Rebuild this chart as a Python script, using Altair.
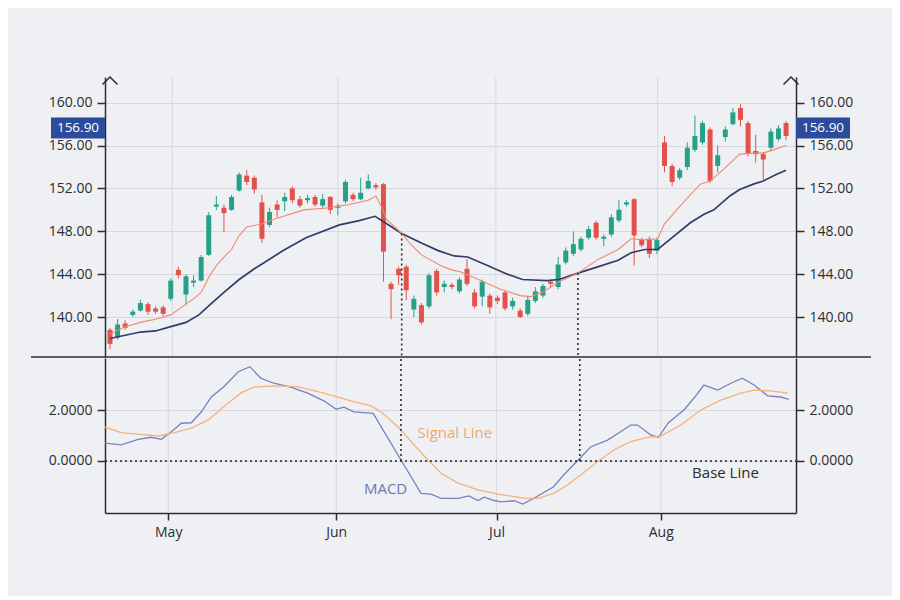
import altair as alt
import pandas as pd

# ---------------- data ----------------
opens = [138.8, 138.1, 139.4, 140.2, 140.6, 141.2, 140.8, 140.9, 141.7, 144.4,
         142.1, 143.2, 143.4, 145.8, 150.3, 150.2, 150.0, 151.8, 153.2, 153.0,
         150.7, 148.6, 150.5, 150.8, 152.0, 151.0, 150.9, 151.2, 150.4, 151.2,
         150.2, 150.8, 151.4, 151.0, 152.0, 152.3, 152.4, 143.1, 144.5, 144.7,
         140.7, 141.1, 141.0, 144.3, 142.8, 143.0, 142.4, 144.5, 142.3, 141.9,
         142.0, 141.8, 142.3, 141.0, 140.6, 140.3, 141.5, 142.0, 143.3, 142.8,
         145.1, 145.9, 146.3, 147.4, 148.8, 147.3, 147.7, 149.0, 150.5, 151.0,
         147.2, 147.3, 146.2, 156.3, 154.1, 153.0, 154.0, 155.6, 156.3, 157.5,
         154.1, 156.8, 158.0, 159.5, 158.1, 155.5, 155.2, 155.8, 156.6, 158.1]
closes = [137.5, 139.3, 139.0, 140.5, 141.3, 140.5, 140.5, 140.3, 143.4, 143.9,
          143.8, 143.4, 145.6, 149.5, 150.5, 149.7, 151.2, 153.3, 152.6, 151.9,
          147.3, 149.8, 150.0, 151.2, 150.9, 150.4, 151.1, 150.5, 151.0, 150.0,
          150.4, 152.6, 151.0, 151.6, 152.7, 152.1, 146.1, 142.6, 143.9, 142.5,
          141.7, 139.5, 143.9, 142.3, 143.1, 142.8, 143.5, 143.1, 141.0, 143.3,
          140.9, 141.5, 140.8, 141.5, 140.0, 141.6, 142.4, 142.9, 143.1, 144.9,
          146.2, 146.8, 147.3, 148.2, 147.4, 147.5, 149.3, 150.0, 150.7, 147.6,
          146.7, 145.9, 147.2, 154.1, 152.6, 153.7, 155.8, 156.9, 158.1, 152.7,
          155.1, 157.5, 159.1, 158.4, 155.3, 155.2, 154.7, 157.3, 157.6, 156.9]
highs = [139.0, 139.8, 139.7, 140.7, 141.6, 141.4, 141.0, 141.1, 143.6, 144.7,
         144.0, 143.9, 145.8, 149.8, 151.3, 150.5, 151.4, 153.5, 153.7, 153.2,
         151.4, 150.2, 150.9, 151.6, 152.2, 151.3, 151.4, 151.4, 151.5, 151.3,
         150.6, 152.8, 151.6, 153.0, 153.3, 152.5, 152.5, 143.3, 144.7, 144.9,
         142.0, 141.3, 144.1, 144.5, 143.4, 143.2, 143.7, 145.4, 142.6, 143.5,
         142.2, 142.0, 142.5, 141.8, 140.8, 142.0, 142.8, 143.1, 143.5, 145.6,
         146.5, 148.0, 147.5, 148.5, 149.0, 147.7, 149.6, 150.9, 150.9, 151.1,
         147.4, 147.5, 147.4, 156.9, 154.3, 153.9, 156.3, 158.8, 158.3, 157.7,
         156.0, 157.8, 159.5, 159.9, 158.3, 157.0, 155.4, 157.6, 157.9, 158.3]
lows = [137.0, 137.9, 138.8, 140.0, 140.5, 140.2, 140.3, 140.1, 141.5, 143.6,
        141.1, 142.8, 143.3, 145.7, 150.0, 147.9, 149.9, 151.7, 152.3, 151.5,
        146.9, 148.4, 149.3, 149.9, 150.6, 150.2, 150.6, 150.3, 150.2, 149.6,
        149.5, 150.6, 150.8, 150.9, 151.9, 151.9, 143.3, 139.8, 143.0, 141.6,
        140.0, 139.3, 140.8, 142.0, 142.3, 142.6, 142.2, 142.9, 140.8, 141.0,
        140.3, 141.2, 140.6, 140.7, 139.9, 140.1, 141.3, 141.8, 142.8, 142.6,
        144.9, 145.7, 146.1, 147.2, 147.2, 146.6, 147.5, 148.8, 150.3, 144.8,
        146.5, 145.5, 145.9, 153.5, 152.2, 152.8, 153.7, 155.4, 156.1, 152.5,
        153.5, 156.4, 157.9, 157.8, 155.0, 154.4, 152.8, 155.6, 156.4, 156.5]

short_ma_idx = [0, 2, 4, 6, 8, 10, 11, 12, 13, 14, 15, 16, 17, 18, 20, 21.5, 25.5, 29,
                31.5, 34, 35, 35.8, 36.4, 38.4, 39.7, 41, 43.5, 45, 46.2, 48.8, 51.4,
                54, 55.3, 56.9, 59.1, 61.6, 64.3, 66.9, 68.6, 70.4, 72.1, 73, 75.1,
                77.7, 79, 80.8, 82.9, 84.7, 86, 87.3, 89]
short_ma = [138.4, 139.1, 139.5, 139.8, 140.2, 141.2, 141.7, 142.3, 143.7, 144.8,
            145.6, 146.3, 147.6, 148.4, 148.7, 149.1, 150.0, 150.2, 150.5, 150.9,
            151.3, 150.2, 149.1, 147.8, 146.7, 145.8, 144.8, 144.4, 144.2, 143.4,
            142.6, 142.0, 141.9, 142.3, 143.3, 144.1, 145.4, 146.3, 147.3, 147.2,
            147.3, 148.7, 150.4, 152.4, 152.7, 153.8, 155.2, 155.3, 155.3, 155.6, 156.0]

long_ma_idx = [0, 2, 4, 6, 8, 10, 11.7, 13.1, 15, 17, 19, 21, 22.8, 25.8, 30.2, 32.8,
               34.9, 37.1, 38.4, 41, 43.2, 45.3, 47.1, 49.7, 52.3, 54.3, 57.5, 59.1,
               61.6, 64.3, 66.9, 68.6, 70.4, 72.1, 73.8, 76.4, 78.2, 79.5, 81.6, 82.9,
               84.7, 86, 87.7, 89]
long_ma = [138.0, 138.3, 138.6, 138.7, 139.1, 139.5, 140.2, 141.1, 142.3, 143.5,
           144.5, 145.4, 146.2, 147.4, 148.6, 149.0, 149.4, 148.4, 147.8, 146.9,
           146.2, 145.7, 145.6, 144.8, 144.0, 143.5, 143.4, 143.5, 144.1, 144.7,
           145.3, 146.0, 146.3, 146.3, 147.3, 148.8, 149.6, 150.0, 151.3, 151.9,
           152.4, 152.7, 153.3, 153.7]

macd_idx = [0, 2.1, 4.3, 6, 7.3, 8.6, 9.9, 11.2, 12.5, 13.8, 15.4, 17.3, 18.8, 20.2,
            21.9, 24.1, 26.3, 28.4, 30, 31, 32.3, 34.8, 36.2, 38.4, 41, 42.3, 43.6,
            45.8, 47.2, 48.4, 49.2, 50.5, 51.4, 53.1, 54.2, 55.6, 58.2, 59.5, 61.4,
            63, 65.2, 66.9, 68.2, 69.1, 70.8, 71.8, 73.1, 75.1, 76.4, 77.7, 79.5,
            81.2, 82.7, 84.2, 86, 87.7, 88.7]
macd = [0.70, 0.63, 0.85, 0.93, 0.85, 1.15, 1.48, 1.50, 1.93, 2.51, 2.91, 3.50, 3.70,
        3.25, 3.05, 2.90, 2.66, 2.36, 2.03, 2.11, 1.93, 1.87, 1.15, 0.04, -1.27, -1.30,
        -1.47, -1.47, -1.37, -1.55, -1.42, -1.55, -1.60, -1.56, -1.69, -1.47, -1.01,
        -0.55, 0.04, 0.55, 0.82, 1.15, 1.41, 1.41, 1.02, 0.93, 1.50, 2.00, 2.46, 2.98,
        2.78, 3.05, 3.25, 2.98, 2.55, 2.51, 2.42]

signal_idx = [0, 2.1, 4.3, 6.9, 9, 11.2, 13.4, 15.4, 17.6, 19.3, 21.9, 25, 28.4, 31.9,
              34.5, 35.8, 38, 40.1, 41.9, 43.6, 45.8, 48.4, 51, 53.1, 54.5, 56.2, 58.2,
              60, 61.7, 63.9, 66, 68.2, 70.4, 72.1, 74.7, 77.3, 79.9, 82.5, 84.2, 86.4, 88.6]
signal = [1.33, 1.11, 1.05, 0.98, 1.11, 1.29, 1.61, 2.13, 2.66, 2.90, 2.95, 2.92, 2.66,
          2.36, 2.16, 1.93, 1.34, 0.63, 0.04, -0.48, -0.87, -1.13, -1.30, -1.40, -1.47,
          -1.47, -1.27, -0.94, -0.55, -0.03, 0.43, 0.76, 0.93, 0.98, 1.41, 2.00, 2.39,
          2.66, 2.78, 2.75, 2.66]

month_names = ["May", "Jun", "Jul", "Aug"]
month_idx = [8.2, 30.0, 50.8, 72.1]
price_ticks = [140, 144, 148, 152, 156, 160]
macd_ticks = [0, 2]
last_price = 156.90
cross_idx = [38.4, 61.6]
cross_price = [147.8, 144.1]

label_text = ["Signal Line", "MACD", "Base Line"]
label_idx = [45.4, 36.4, 80.5]
label_val = [1.10, -1.10, -0.47]

x_lo, x_hi = 0, 89.65
p_lo, p_hi = 136.27, 162.4
m_lo, m_hi = -2.04, 4.04

# ---------------- styles ----------------
FONT = "Open Sans"
GREEN = "#27a08a"
RED = "#e3514b"
NAVY = "#363a6b"
SALMON = "#ef8a72"
MACD_C = "#7a7fc0"
SIG_C = "#f4b27a"
INK = "#2c2d33"
GRID = "#d8d9df"
BG = "#eff0f4"
BOX = "#2d4b9b"
LABEL_COLORS = ["#f0a868", "#6f74b6", "#2b2b2e"]
W = 691

candles = pd.DataFrame({"idx": list(range(len(opens))), "open": opens, "close": closes,
                        "high": highs, "low": lows})
candles["dir"] = ["up" if c >= o else "down" for o, c in zip(opens, closes)]
months = pd.DataFrame({"idx": month_idx, "name": month_names})

xs = alt.Scale(domain=[x_lo, x_hi], nice=False, zero=False)
ysp = alt.Scale(domain=[p_lo, p_hi], nice=False, zero=False)
ysm = alt.Scale(domain=[m_lo, m_hi], nice=False, zero=False)
col = alt.Color("dir:N", scale=alt.Scale(domain=["up", "down"], range=[GREEN, RED]), legend=None)

month_expr = "['" + "','".join(month_names) + "'][indexof([" + ",".join(
    str(v) for v in month_idx) + "], datum.value)]"
month_axis = alt.Axis(values=month_idx, grid=False, labelExpr=month_expr, title=None,
                      tickSize=7, labelPadding=5, orient="bottom")


def yaxis(orient, values, fmt, grid):
    return alt.Axis(orient=orient, values=values, format=fmt, grid=grid, title=None,
                    tickSize=8, labelPadding=5)


X = alt.X("idx:Q", scale=xs, axis=None)

# vertical month gridlines (price panel)
vgrid_p = alt.Chart(months).mark_rule(color=GRID, strokeWidth=1).encode(x=X)

wicks = alt.Chart(candles).mark_rule(strokeWidth=1).encode(
    x=X, y=alt.Y("low:Q", scale=ysp, axis=yaxis("left", price_ticks, ".2f", True)),
    y2="high:Q", color=col)
bodies = alt.Chart(candles).mark_bar(size=5).encode(
    x=X, y=alt.Y("open:Q", scale=ysp, axis=yaxis("right", price_ticks, ".2f", False)),
    y2="close:Q", color=col)

long_line = alt.Chart(pd.DataFrame({"idx": long_ma_idx, "v": long_ma})).mark_line(
    color=NAVY, strokeWidth=1.7).encode(x=X, y=alt.Y("v:Q", scale=ysp, axis=None))
short_line = alt.Chart(pd.DataFrame({"idx": short_ma_idx, "v": short_ma})).mark_line(
    color=SALMON, strokeWidth=1.1).encode(x=X, y=alt.Y("v:Q", scale=ysp, axis=None))

cross_df = pd.DataFrame({"idx": cross_idx, "price": cross_price,
                         "lo": [p_lo] * 2, "z": [0.0] * 2, "top": [m_hi] * 2})
cross_p = alt.Chart(cross_df).mark_rule(color=INK, strokeDash=[2, 3], strokeWidth=1.6).encode(
    x=X, y=alt.Y("price:Q", scale=ysp, axis=None), y2="lo:Q")

arrow_df = pd.DataFrame({"idx": [x_lo, x_hi], "v": [p_hi, p_hi]})
arrows = alt.Chart(arrow_df).mark_point(shape="M-1,1L0,0L1,1", size=225, filled=False,
                                         stroke=INK, strokeWidth=1.5, opacity=1).encode(
    x=X, y=alt.Y("v:Q", scale=ysp, axis=None))

sep = alt.Chart(pd.DataFrame({"v": [p_lo]})).mark_rule(color=INK, strokeWidth=1.5).encode(
    x=alt.value(-74), x2=alt.value(766), y=alt.Y("v:Q", scale=ysp, axis=None))

box_df = pd.DataFrame({"v": [last_price], "label": [f"{last_price:.2f}"]})
BOX_SHAPE = "M-1,-0.39L1,-0.39L1,0.39L-1,0.39Z"
boxes = []
for px in (-27, W + 27):
    boxes.append(alt.Chart(box_df).mark_point(shape=BOX_SHAPE, size=2916, filled=True,
                                              color=BOX, opacity=1, yOffset=-8).encode(
        x=alt.value(px), y=alt.Y("v:Q", scale=ysp, axis=None)))
    boxes.append(alt.Chart(box_df).mark_text(color="white", font=FONT, fontSize=13.5,
                                             yOffset=-8).encode(
        x=alt.value(px), y=alt.Y("v:Q", scale=ysp, axis=None), text="label:N"))

price = alt.layer(vgrid_p, wicks, bodies, long_line, short_line, cross_p, sep, arrows,
                  *boxes).resolve_axis(y="independent").properties(width=W, height=280)

# ---------------- MACD panel ----------------
XM = alt.X("idx:Q", scale=xs, axis=month_axis)
vgrid_m = alt.Chart(months).mark_rule(color=GRID, strokeWidth=1).encode(x=XM)
macd_line = alt.Chart(pd.DataFrame({"idx": macd_idx, "v": macd})).mark_line(
    color=MACD_C, strokeWidth=1.3).encode(
    x=XM, y=alt.Y("v:Q", scale=ysm, axis=yaxis("left", macd_ticks, ".4f", True)))
sig_line = alt.Chart(pd.DataFrame({"idx": signal_idx, "v": signal})).mark_line(
    color=SIG_C, strokeWidth=1.3).encode(
    x=XM, y=alt.Y("v:Q", scale=ysm, axis=yaxis("right", macd_ticks, ".4f", False)))
base = alt.Chart(pd.DataFrame({"idx": [x_lo], "b": [x_hi], "v": [0.0]})).mark_rule(
    color="#222", strokeDash=[2, 3], strokeWidth=1.6).encode(
    x=XM, x2="b:Q", y=alt.Y("v:Q", scale=ysm, axis=None))
cross_m = alt.Chart(cross_df).mark_rule(color=INK, strokeDash=[2, 3], strokeWidth=1.6).encode(
    x=XM, y=alt.Y("z:Q", scale=ysm, axis=None), y2="top:Q")

labels = []
for t, i, v, c in zip(label_text, label_idx, label_val, LABEL_COLORS):
    labels.append(alt.Chart(pd.DataFrame({"idx": [i], "v": [v], "t": [t]})).mark_text(
        font=FONT, fontSize=15, color=c).encode(
        x=XM, y=alt.Y("v:Q", scale=ysm, axis=None), text="t:N"))

lower = alt.layer(vgrid_m, macd_line, sig_line, base, cross_m, *labels).resolve_axis(
    y="independent").properties(width=W, height=155)

chart = alt.vconcat(price, lower, spacing=-4).resolve_scale(
    color="independent").properties(
    padding={"left": 22, "top": 66, "right": 20, "bottom": 57}
).configure(background=BG).configure_view(stroke=None).configure_axis(
    domainColor=INK, domainWidth=1.5, tickColor=INK, tickWidth=1.5, labelColor=INK,
    labelFont=FONT, labelFontSize=14, gridColor=GRID, gridWidth=1)

chart.save("out.html", embed_options={"renderer": "svg", "actions": False})
